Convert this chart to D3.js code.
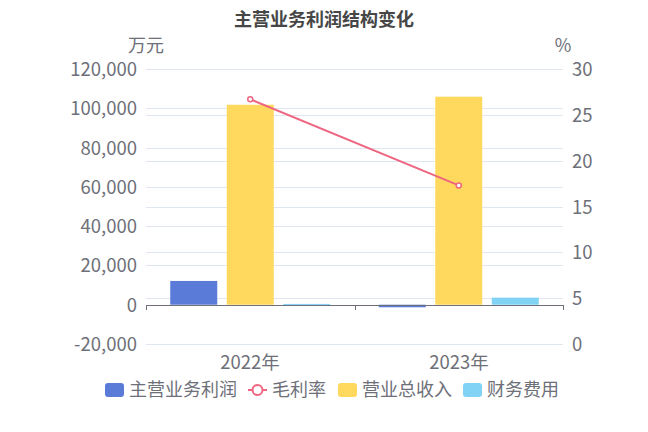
<!DOCTYPE html>
<html>
<head>
<meta charset="utf-8">
<script src="https://cdn.jsdelivr.net/npm/d3@7"></script>
<style>
  html, body { margin: 0; padding: 0; background: #fff; overflow: hidden; }
  svg { display: block; }
  svg text { font-family: "Noto Sans CJK SC", "Noto Sans", sans-serif; }
</style>
</head>
<body>
<div id="chart"></div>
<script>
// Chart data
const years = ["2022年", "2023年"];
const mainProfit = [12100, -1300];     // 主营业务利润 (万元)
const revenue = [101800, 105900];      // 营业总收入 (万元)
const financeCost = [400, 3600];       // 财务费用 (万元)
const grossMargin = [26.7, 17.3];      // 毛利率 (%)
const leftTicks = [-20000, 0, 20000, 40000, 60000, 80000, 100000, 120000];
const rightTicks = [0, 5, 10, 15, 20, 25, 30];

const barSeries = [
  { name: "主营业务利润", values: mainProfit, color: "#5B7BD8" },
  { name: "营业总收入", values: revenue, color: "#FFD95E" },
  { name: "财务费用", values: financeCost, color: "#80D3F5" }
];

const width = 648, height = 432;
const margin = { top: 69, right: 85, bottom: 88, left: 146 };
const innerWidth = width - margin.left - margin.right;
const innerHeight = height - margin.top - margin.bottom;

const textColor = "#6E7079";
const gridColor = "#E0E6F1";

// Plain hyphen for negative numbers, as in the reference
const locale = d3.formatLocale({ decimal: ".", thousands: ",", grouping: [3], currency: ["", ""], minus: "-" });
const fmt = locale.format(",.0f");

const svg = d3.select("#chart").append("svg")
  .attr("width", width)
  .attr("height", height)
  .attr("viewBox", `0 0 ${width} ${height}`);

// Scales in page coordinates
const x = d3.scaleBand().domain(years).range([margin.left, margin.left + innerWidth]);
const yLeft = d3.scaleLinear().domain([-20000, 120000]).range([margin.top + innerHeight, margin.top]);
const yRight = d3.scaleLinear().domain([0, 30]).range([margin.top + innerHeight, margin.top]);

function addText(px, py, str, anchor, size, extra) {
  const t = svg.append("text")
    .attr("x", px)
    .attr("y", py)
    .attr("text-anchor", anchor)
    .attr("fill", textColor)
    .style("font-size", size)
    .text(str);
  if (extra) extra(t);
  return t;
}

// Grid lines for both axes
svg.append("g")
  .selectAll("line")
  .data(leftTicks)
  .join("line")
  .attr("x1", x.range()[0]).attr("x2", x.range()[1])
  .attr("y1", d => Math.round(yLeft(d)) + 0.5).attr("y2", d => Math.round(yLeft(d)) + 0.5)
  .attr("stroke", gridColor);

svg.append("g")
  .selectAll("line")
  .data(rightTicks)
  .join("line")
  .attr("x1", x.range()[0]).attr("x2", x.range()[1])
  .attr("y1", d => Math.round(yRight(d)) + 0.5).attr("y2", d => Math.round(yRight(d)) + 0.5)
  .attr("stroke", gridColor);

// Axis tick labels
leftTicks.forEach(d => addText(x.range()[0] - 9, Math.round(yLeft(d) + 7), fmt(d), "end", "18.5px"));
rightTicks.forEach(d => addText(x.range()[1] + 9, Math.round(yRight(d) + 7), String(d), "start", "18.5px"));

// Bars
const barWidth = 47;
const barGap = 9.5;
const groupOffset = (x.bandwidth() - (barWidth * 3 + barGap * 2)) / 2;

barSeries.forEach((s, i) => {
  svg.append("g")
    .selectAll("rect")
    .data(s.values.map((v, j) => ({ year: years[j], value: v })))
    .join("rect")
    .attr("x", d => x(d.year) + groupOffset + i * (barWidth + barGap))
    .attr("width", barWidth)
    .attr("y", d => yLeft(Math.max(0, d.value)))
    .attr("height", d => Math.max(1, Math.abs(yLeft(d.value) - yLeft(0))))
    .attr("fill", s.color);
});

// X axis on the zero line, ticks at band edges
const zeroY = Math.round(yLeft(0));
svg.append("line")
  .attr("x1", x.range()[0]).attr("x2", x.range()[1])
  .attr("y1", zeroY + 0.5).attr("y2", zeroY + 0.5)
  .attr("stroke", textColor);
svg.append("g")
  .selectAll("line")
  .data([...years.map(d => x(d)), x.range()[1]])
  .join("line")
  .attr("x1", d => Math.round(d) + 0.5).attr("x2", d => Math.round(d) + 0.5)
  .attr("y1", zeroY).attr("y2", zeroY + 5)
  .attr("stroke", textColor);

// Category labels
years.forEach(d => addText(Math.round(x(d) + x.bandwidth() / 2), margin.top + innerHeight + 25, d, "middle", "18.5px"));

// Gross margin line
const line = d3.line()
  .x((d, i) => x(years[i]) + x.bandwidth() / 2)
  .y(d => yRight(d));

svg.append("path")
  .datum(grossMargin)
  .attr("d", line)
  .attr("fill", "none")
  .attr("stroke", "#EE6680")
  .attr("stroke-width", 2);

svg.append("g")
  .selectAll("circle")
  .data(grossMargin)
  .join("circle")
  .attr("cx", (d, i) => x(years[i]) + x.bandwidth() / 2)
  .attr("cy", d => yRight(d))
  .attr("r", 2.5)
  .attr("fill", "#fff")
  .attr("stroke", "#EE6680")
  .attr("stroke-width", 1.5);

// Title
addText(width / 2, 26, "主营业务利润结构变化", "middle", "18px", t => t.attr("fill", "#464646").style("font-weight", "bold"));

// Axis names
addText(margin.left, 52, "万元", "middle", "18px");
addText(margin.left + innerWidth, 52, "%", "middle", "18px");

// Legend
const legendItems = [
  { name: "主营业务利润", color: "#5B7BD8", type: "rect", x: 105 },
  { name: "毛利率", color: "#EE6680", type: "line", x: 248 },
  { name: "营业总收入", color: "#FFD95E", type: "rect", x: 338 },
  { name: "财务费用", color: "#80D3F5", type: "rect", x: 463 }
];
const legendY = 390;
const legend = svg.append("g");
legendItems.forEach(item => {
  const g = legend.append("g").attr("transform", `translate(${item.x},${legendY})`);
  if (item.type === "rect") {
    g.append("rect")
      .attr("x", 0).attr("y", -7)
      .attr("width", 19).attr("height", 14)
      .attr("rx", 3)
      .attr("fill", item.color);
  } else {
    g.append("line")
      .attr("x1", 0).attr("x2", 19).attr("y1", 0).attr("y2", 0)
      .attr("stroke", item.color).attr("stroke-width", 2);
    g.append("circle")
      .attr("cx", 9.5).attr("cy", 0).attr("r", 5)
      .attr("fill", "#fff").attr("stroke", item.color).attr("stroke-width", 2);
  }
  g.append("text")
    .attr("x", 24)
    .attr("y", 0)
    .attr("dy", "0.35em")
    .attr("fill", textColor)
    .style("font-size", "18px")
    .text(item.name);
});
</script>
</body>
</html>
